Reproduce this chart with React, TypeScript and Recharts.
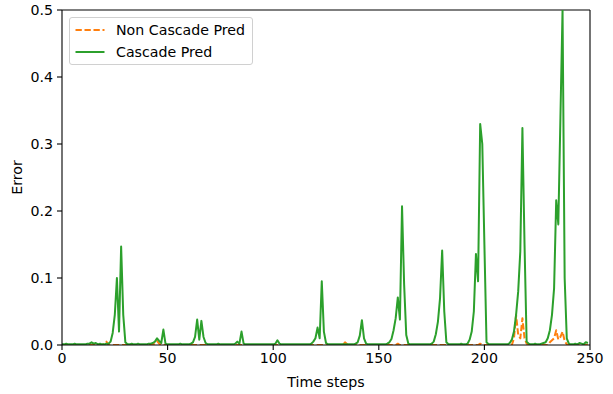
import React from 'react';
import { LineChart, Line, XAxis, YAxis, Legend, ReferenceLine } from 'recharts';

const xTicks = [0, 50, 100, 150, 200, 250];
const yTicks = [0, 0.1, 0.2, 0.3, 0.4, 0.5];
const seriesNames = ['Non Cascade Pred', 'Cascade Pred'];
const seriesColors = ['#ff7f0e', '#2ca02c'];

const cascade = [
  0.001, 0.001, 0.002, 0.001, 0.001, 0.001, 0.002, 0.001, 0.001, 0.001,
  0.001, 0.001, 0.002, 0.002, 0.004, 0.002, 0.003, 0.001, 0.002, 0.001,
  0.001, 0.002, 0.002, 0.005, 0.018, 0.045, 0.1, 0.02, 0.147, 0.045,
  0.004, 0.001, 0.001, 0.002, 0.001, 0.001, 0.002, 0.001, 0.001, 0.001,
  0.001, 0.002, 0.002, 0.003, 0.005, 0.01, 0.006, 0.003, 0.023, 0.002,
  0.001, 0.001, 0.001, 0.001, 0.001, 0.001, 0.002, 0.001, 0.001, 0.001,
  0.001, 0.002, 0.004, 0.012, 0.038, 0.008, 0.036, 0.012, 0.003, 0.001,
  0.001, 0.001, 0.001, 0.001, 0.002, 0.001, 0.001, 0.001, 0.001, 0.001,
  0.001, 0.001, 0.002, 0.005, 0.002, 0.02, 0.002, 0.001, 0.001, 0.001,
  0.001, 0.001, 0.001, 0.001, 0.001, 0.001, 0.001, 0.001, 0.001, 0.001,
  0.001, 0.002, 0.007, 0.002, 0.001, 0.001, 0.001, 0.001, 0.001, 0.001,
  0.001, 0.001, 0.001, 0.001, 0.001, 0.001, 0.001, 0.001, 0.002, 0.005,
  0.01, 0.026, 0.01, 0.095, 0.02, 0.003, 0.001, 0.001, 0.001, 0.001,
  0.001, 0.001, 0.001, 0.001, 0.001, 0.001, 0.001, 0.001, 0.001, 0.002,
  0.004, 0.014, 0.037, 0.01, 0.002, 0.001, 0.001, 0.001, 0.001, 0.001,
  0.001, 0.001, 0.001, 0.001, 0.002, 0.004, 0.009, 0.022, 0.04, 0.071,
  0.038, 0.207, 0.09, 0.015, 0.002, 0.001, 0.001, 0.001, 0.001, 0.001,
  0.001, 0.001, 0.001, 0.001, 0.001, 0.002, 0.005, 0.016, 0.035, 0.07,
  0.141, 0.05, 0.004, 0.001, 0.001, 0.001, 0.001, 0.001, 0.001, 0.002,
  0.001, 0.001, 0.002, 0.008, 0.02, 0.05, 0.136, 0.095, 0.33, 0.3,
  0.15, 0.004, 0.001, 0.001, 0.001, 0.001, 0.001, 0.001, 0.001, 0.001,
  0.001, 0.001, 0.003, 0.008, 0.02, 0.045, 0.08, 0.14, 0.324, 0.15,
  0.005, 0.002, 0.001, 0.001, 0.002, 0.001, 0.001, 0.002, 0.003, 0.004,
  0.01, 0.022, 0.045, 0.085, 0.216, 0.18, 0.34, 0.5, 0.1, 0.01,
  0.002, 0.001, 0.001, 0.002, 0.001, 0.003, 0.002, 0.001, 0.004, 0.003,
];

const nonCascade = [
  0, 0, 0, 0, 0, 0, 0, 0, 0, 0,
  0, 0, 0, 0, 0, 0, 0, 0, 0, 0,
  0.002, 0.005, 0, 0, 0, 0, 0, 0, 0, 0,
  0, 0, 0, 0, 0, 0, 0, 0, 0, 0,
  0, 0, 0, 0, 0.003, 0.006, 0.002, 0, 0, 0,
  0, 0, 0, 0, 0, 0, 0, 0, 0, 0,
  0, 0, 0, 0, 0, 0, 0, 0, 0, 0,
  0, 0, 0, 0, 0, 0, 0, 0, 0, 0,
  0, 0, 0, 0, 0, 0, 0, 0, 0, 0,
  0, 0, 0, 0, 0, 0, 0, 0, 0, 0,
  0, 0, 0, 0, 0, 0, 0, 0, 0, 0,
  0, 0, 0, 0, 0, 0, 0, 0, 0, 0,
  0, 0, 0, 0, 0, 0, 0, 0, 0, 0,
  0, 0, 0, 0, 0.004, 0.001, 0, 0, 0, 0,
  0, 0, 0, 0, 0, 0, 0, 0, 0, 0,
  0, 0, 0, 0, 0, 0, 0, 0, 0, 0.002,
  0, 0, 0, 0, 0, 0, 0, 0, 0, 0,
  0, 0, 0, 0, 0, 0, 0, 0, 0, 0,
  0, 0, 0, 0, 0, 0, 0, 0, 0, 0,
  0, 0, 0, 0, 0, 0, 0, 0, 0.002, 0,
  0, 0, 0, 0, 0, 0, 0, 0, 0, 0,
  0, 0, 0, 0, 0.01, 0.045, 0.015, 0.01, 0.04, 0.01,
  0.002, 0, 0, 0, 0, 0, 0, 0, 0, 0,
  0, 0.004, 0.007, 0.01, 0.022, 0.008, 0.012, 0.02, 0.006, 0.001,
  0, 0, 0, 0, 0, 0, 0, 0, 0, 0,
];

const timeSteps = cascade.map((_, i) => i);

const data = timeSteps.map((t, i) => ({
  t,
  nonCascade: nonCascade[i],
  cascade: cascade[i],
}));

const FONT = '"DejaVu Sans", sans-serif';
const FS = 14.2;

const LegendBox = () => (
  <div
    style={{
      position: 'relative',
      width: 184,
      height: 48,
      border: '1px solid #d0d0d0',
      borderRadius: 3,
      background: 'rgba(255,255,255,0.8)',
      fontFamily: FONT,
      fontSize: FS,
      color: '#000',
      boxSizing: 'border-box',
    }}
  >
    {seriesNames.map((name, i) => (
      <div
        key={name}
        style={{
          position: 'absolute',
          left: 0,
          top: 3 + i * 22.4,
          height: 18,
          width: 180,
        }}
      >
        <svg width={30} height={18} style={{ position: 'absolute', left: 5, top: 0 }}>
          <line
            x1={0.5}
            y1={9}
            x2={29.5}
            y2={9}
            stroke={seriesColors[i]}
            strokeWidth={2}
            strokeDasharray={i === 0 ? '6.3 2.7' : undefined}
          />
        </svg>
        <span style={{ position: 'absolute', left: 46, top: 0, lineHeight: '18px', whiteSpace: 'nowrap' }}>
          {name}
        </span>
      </div>
    ))}
  </div>
);

export default function App() {
  return (
    <div style={{ position: 'absolute', left: 0, top: 0, width: 613, height: 394, background: '#fff' }}>
      <LineChart
        width={613}
        height={394}
        data={data}
        margin={{ top: 10, right: 23, left: 0, bottom: 0 }}
        style={{ fontFamily: FONT }}
      >
        <XAxis
          dataKey="t"
          type="number"
          domain={[0, 250]}
          ticks={xTicks}
          height={49}
          tickSize={5}
          tickMargin={3}
          stroke="#000"
          tick={{ fill: '#000', fontSize: FS, fontFamily: FONT }}
          axisLine={{ stroke: '#000', strokeWidth: 1.1 }}
          tickLine={{ stroke: '#000', strokeWidth: 1.1 }}
          allowDataOverflow
          label={{ value: 'Time steps', position: 'insideBottom', offset: 7, fill: '#000', fontSize: FS, fontFamily: FONT }}
        />
        <YAxis
          type="number"
          domain={[0, 0.5]}
          ticks={yTicks}
          width={62}
          tickSize={5}
          tickMargin={4}
          stroke="#000"
          tickFormatter={(v: number) => v.toFixed(1)}
          tick={{ fill: '#000', fontSize: FS, fontFamily: FONT }}
          axisLine={{ stroke: '#000', strokeWidth: 1.1 }}
          tickLine={{ stroke: '#000', strokeWidth: 1.1 }}
          allowDataOverflow
          label={{
            value: 'Error',
            angle: -90,
            position: 'insideLeft',
            offset: 17,
            fill: '#000',
            fontSize: FS,
            fontFamily: FONT,
            style: { textAnchor: 'middle' },
          }}
        />
        <ReferenceLine x={250} stroke="#000" strokeWidth={1.1} />
        <ReferenceLine y={0.5} stroke="#000" strokeWidth={1.1} />
        <Line
          type="linear"
          dataKey="nonCascade"
          name={seriesNames[0]}
          stroke={seriesColors[0]}
          strokeWidth={2}
          strokeDasharray="6.3 2.7"
          strokeLinejoin="round"
          dot={false}
          activeDot={false}
          isAnimationActive={false}
        />
        <Line
          type="linear"
          dataKey="cascade"
          name={seriesNames[1]}
          stroke={seriesColors[1]}
          strokeWidth={2}
          strokeLinejoin="round"
          dot={false}
          activeDot={false}
          isAnimationActive={false}
        />
        <Legend
          layout="horizontal"
          verticalAlign="middle"
          align="center"
          wrapperStyle={{ position: 'absolute', left: 69, top: 17, width: 184, height: 48 }}
          content={() => <LegendBox />}
        />
      </LineChart>
    </div>
  );
}
